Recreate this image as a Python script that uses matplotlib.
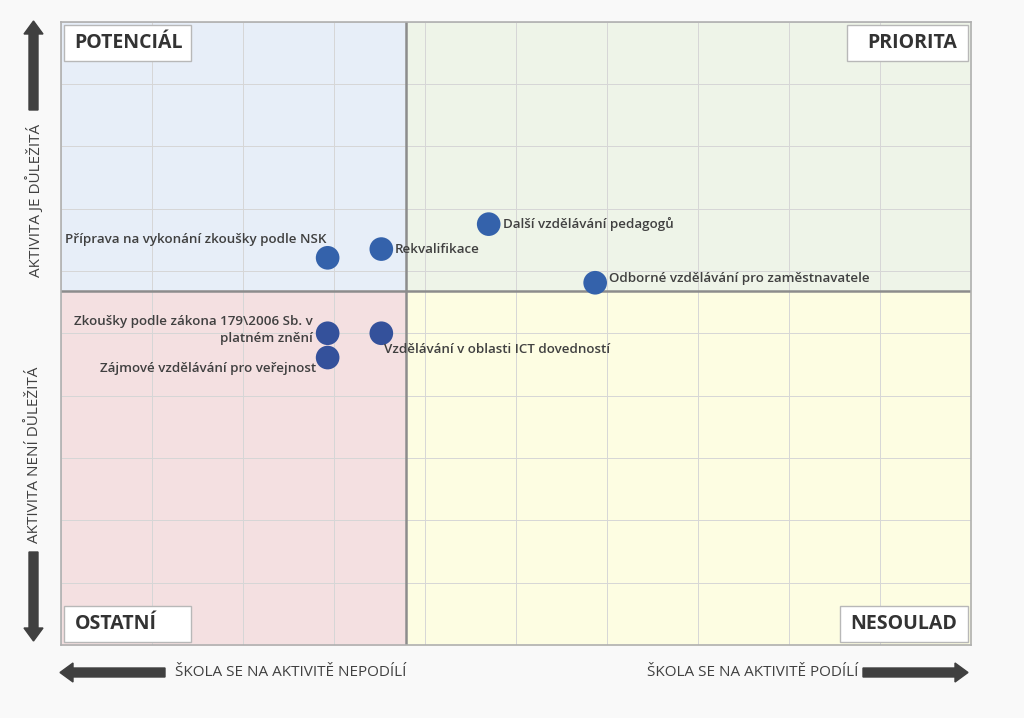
"""
Quadrant chart: importance of activities vs. school participation.
"""

import matplotlib
matplotlib.use('Agg')
from matplotlib import pyplot
from matplotlib.patches import FancyArrow

# Data (x: school participation, y: importance).
labels = [
    'Příprava na vykonání zkoušky podle NSK',
    'Rekvalifikace',
    'Další vzdělávání pedagogů',
    'Odborné vzdělávání pro zaměstnavatele',
    'Zkoušky podle zákona 179\\2006 Sb. v\nplatném znění',
    'Vzdělávání v oblasti ICT dovedností',
    'Zájmové vzdělávání pro veřejnost',
]
x_vals = [2.93, 3.52, 4.70, 5.87, 2.93, 3.52, 2.93]
y_vals = [6.21, 6.35, 6.75, 5.81, 5.00, 5.00, 4.61]
x_mid, y_mid = 3.79, 5.68
quadrants = ['POTENCIÁL', 'PRIORITA', 'OSTATNÍ', 'NESOULAD']
axis_texts = ['AKTIVITA JE DŮLEŽITÁ', 'AKTIVITA NENÍ DŮLEŽITÁ',
              'ŠKOLA SE NA AKTIVITĚ NEPODÍLÍ', 'ŠKOLA SE NA AKTIVITĚ PODÍLÍ']

text_color = '#404040'
pyplot.rcParams['font.family'] = ['Open Sans', 'DejaVu Sans']

fig = pyplot.figure(figsize=(10.24, 7.18), dpi=100)
fig.patch.set_facecolor('#f9f9f9')
ax = fig.add_axes([61 / 1024, 1 - 645 / 718, 910 / 1024, 623.5 / 718])
ax.set_xlim(0, 10)
ax.set_ylim(0, 10)

# quadrant backgrounds
ax.fill_between([0, x_mid], y_mid, 10, color='#e7eef8', zorder=0)
ax.fill_between([x_mid, 10], y_mid, 10, color='#eef4e8', zorder=0)
ax.fill_between([0, x_mid], 0, y_mid, color='#f4e0e1', zorder=0)
ax.fill_between([x_mid, 10], 0, y_mid, color='#fdfde2', zorder=0)

ax.set_xticks(range(11))
ax.set_yticks(range(11))
ax.tick_params(length=0, labelbottom=False, labelleft=False)
ax.grid(color='#d6d6d6', linewidth=0.7, zorder=1)
ax.set_axisbelow(True)
for s in ax.spines.values():
    s.set_color('#b0b0b0')
    s.set_linewidth(1.2)
ax.axvline(x_mid, color='#8c8c8c', linewidth=1.8, zorder=2)
ax.axhline(y_mid, color='#8c8c8c', linewidth=1.8, zorder=2)

colors = ['#3462ab', '#3462ab', '#3462ab', '#3462ab', '#34519b', '#34519b', '#34519b']
ax.scatter(x_vals, y_vals, s=290, c=colors, zorder=4, edgecolors='none')

# data labels: (dx, dy) offsets in points, alignment
label_pos = [((-1, 13), 'right'), ((10, 0), 'left'), ((10, 0), 'left'),
             ((10, 3), 'left'), ((-11, 2), 'right'), ((2, -12), 'left'),
             ((-8, -8), 'right')]
for lab, xv, yv, (off, ha) in zip(labels, x_vals, y_vals, label_pos):
    ax.annotate(lab, (xv, yv), xytext=off, textcoords='offset points',
                ha=ha, va='center', fontsize=9.6, fontweight='semibold',
                color=text_color, zorder=5, linespacing=1.4)

# quadrant name boxes
qpos = [(0.003, 0.995, 'left', 'top'), (0.997, 0.995, 'right', 'top'),
        (0.003, 0.005, 'left', 'bottom'), (0.997, 0.005, 'right', 'bottom')]
box_w = [127, 121, 127, 128]
for name, (qx, qy, ha, va), bw in zip(quadrants, qpos, box_w):
    w = bw / 910
    h = 36 / 623.5
    x0 = qx if ha == 'left' else qx - w
    y0 = qy - h if va == 'top' else qy
    ax.add_patch(pyplot.Rectangle((x0, y0), w, h, transform=ax.transAxes,
                                  facecolor='white', edgecolor='#b8b8b8',
                                  linewidth=1, zorder=6))
    tx = x0 + 11 / 910 if ha == 'left' else x0 + w - 11 / 910
    ax.text(tx, y0 + h / 2, name, transform=ax.transAxes, ha=ha, va='center',
            fontsize=14, fontweight='bold', color='#333333', zorder=7)

# arrows around the plot (inches)
tr = fig.dpi_scale_trans
arrow_kw = dict(width=0.09, head_width=0.19, head_length=0.13,
                length_includes_head=True, color=text_color, transform=tr)
fig.patches.append(FancyArrow(0.335, 6.08, 0, 0.89, **arrow_kw))
fig.patches.append(FancyArrow(0.335, 1.66, 0, -0.89, **arrow_kw))
fig.patches.append(FancyArrow(1.65, 0.455, -1.05, 0, **arrow_kw))
fig.patches.append(FancyArrow(8.63, 0.455, 1.05, 0, **arrow_kw))

fig.text(0.35, 7.18 - 2.0, axis_texts[0], transform=tr, rotation=90,
         ha='center', va='center', fontsize=11, color=text_color)
fig.text(0.35, 7.18 - 4.55, axis_texts[1], transform=tr, rotation=90,
         ha='center', va='center', fontsize=11, color=text_color)
fig.text(1.75, 0.455, axis_texts[2], transform=tr, ha='left', va='center',
         fontsize=11, color=text_color)
fig.text(8.58, 0.455, axis_texts[3], transform=tr, ha='right', va='center',
         fontsize=11, color=text_color)

fig.savefig('out.png', dpi=100, facecolor=fig.get_facecolor())
